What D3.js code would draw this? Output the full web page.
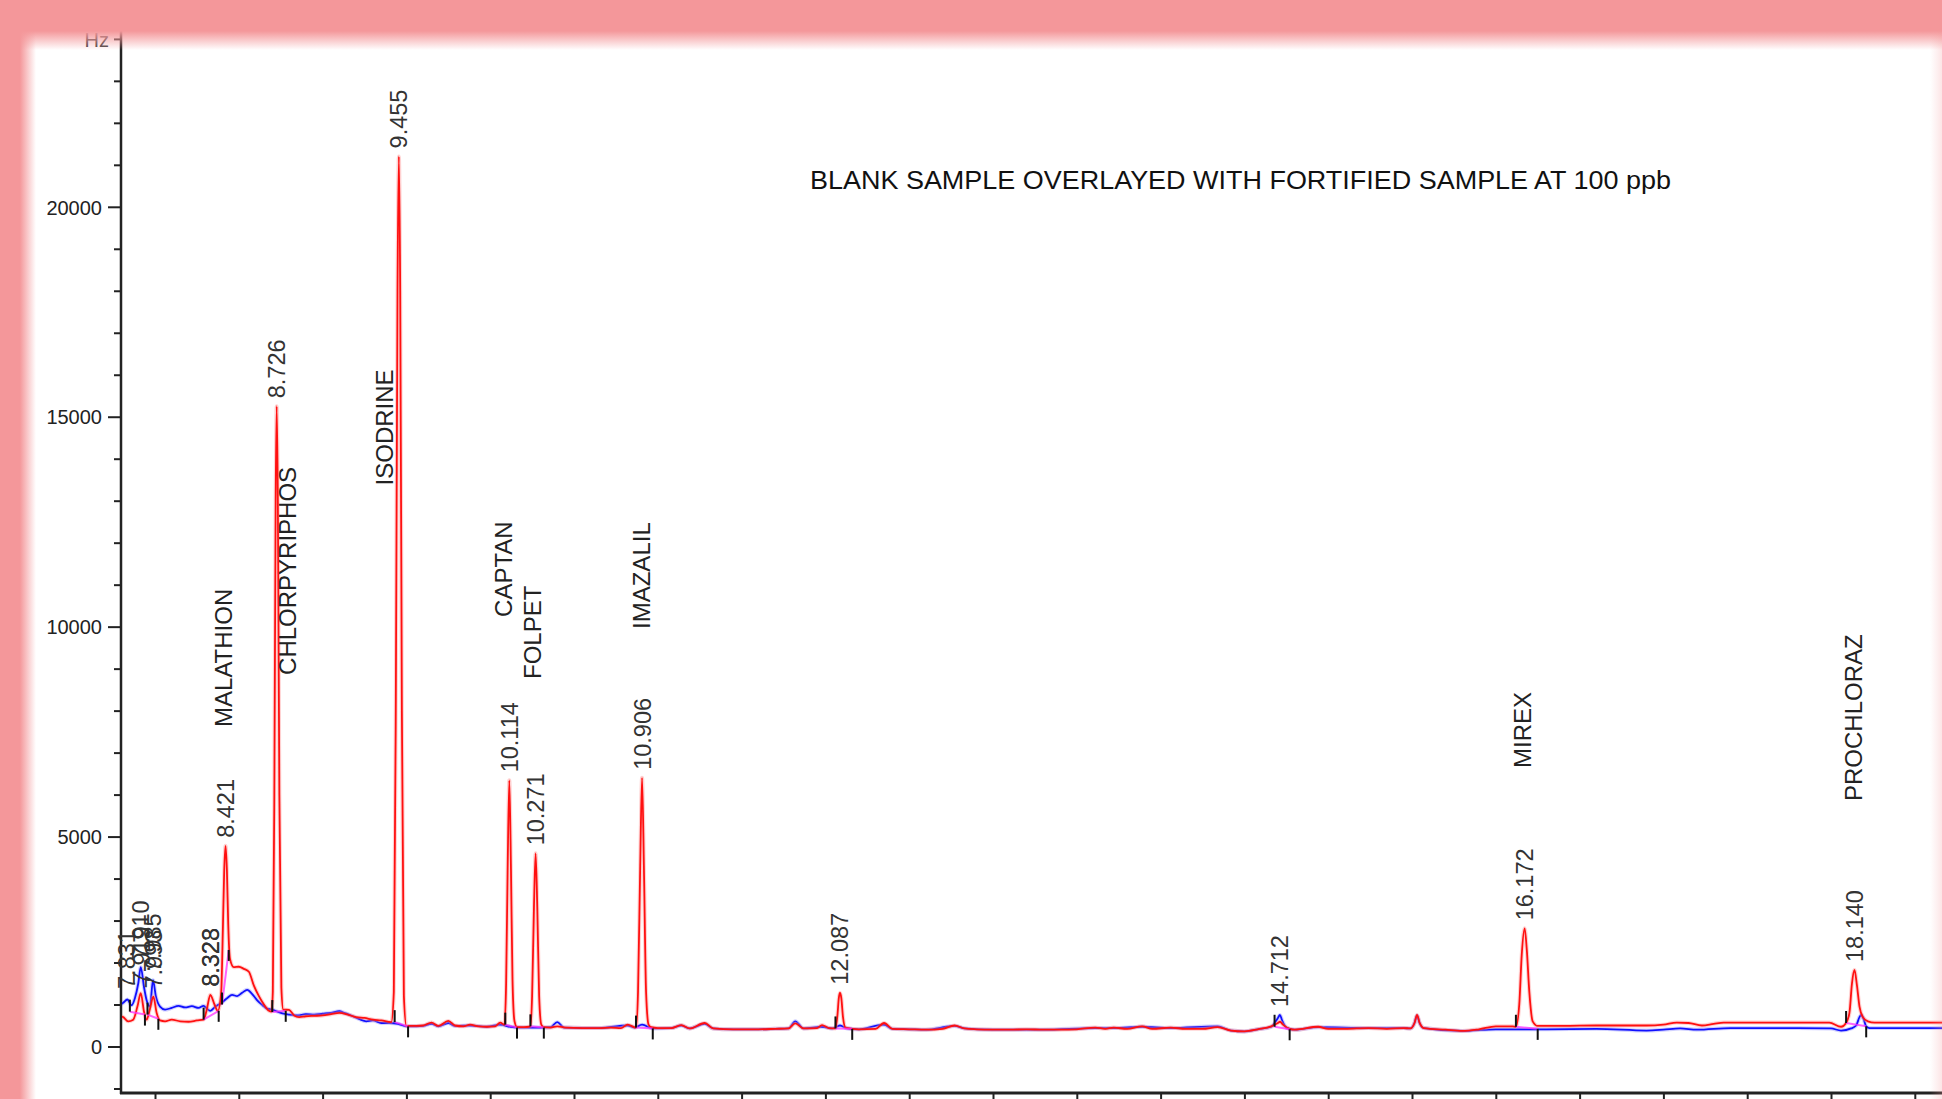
<!DOCTYPE html>
<html><head><meta charset="utf-8">
<script src="https://cdn.jsdelivr.net/npm/d3@7"></script>
<style>html,body{margin:0;padding:0;background:#fff;overflow:hidden}svg{display:block}</style>
</head><body>
<svg id="chart" width="1942" height="1099"></svg>
<script>
// ---------- DATA ----------
const titleText = "BLANK SAMPLE OVERLAYED WITH FORTIFIED SAMPLE AT 100 ppb";
const yUnit = "Hz";
const yMajorTicks = [0, 5000, 10000, 15000, 20000];
const yMinorTicks = d3.range(-1000, 24001, 1000);
const xTicks = d3.range(8, 18.51, 0.5);

// fortified sample (red): [retention time (min), signal (Hz)]
const redTrace = [
[7.795,720],[7.81,700],[7.84,600],[7.87,640],[7.895,950],[7.915,1270],[7.935,820],[7.95,640],[7.97,900],[7.99,1190],
[8.01,800],[8.03,620],[8.06,600],[8.10,640],[8.15,600],[8.20,590],[8.25,620],[8.29,640],[8.31,900],[8.33,1230],
[8.355,1000],[8.375,850],[8.395,1300],[8.405,2800],[8.413,4200],[8.421,4780],[8.429,4200],[8.437,2900],[8.447,2100],
[8.47,1890],[8.50,1900],[8.53,1850],[8.56,1780],[8.59,1450],[8.62,1200],[8.65,1000],[8.68,850],[8.695,830],
[8.703,1300],[8.712,6000],[8.72,13000],[8.726,15250],[8.733,13000],[8.742,6000],[8.754,1400],[8.765,880],
[8.80,870],[8.83,740],[8.86,700],[8.90,720],[8.95,730],[9.00,740],[9.05,770],[9.10,800],[9.15,760],[9.20,700],
[9.25,680],[9.30,640],[9.35,620],[9.41,580],[9.425,1300],[9.437,8300],[9.447,18000],[9.455,21200],[9.463,18000],
[9.473,8000],[9.485,1200],[9.50,490],[9.56,490],[9.60,500],[9.65,570],[9.69,490],[9.75,610],[9.79,500],[9.84,480],
[9.88,520],[9.93,480],[9.98,470],[10.03,480],[10.06,570],[10.085,520],[10.095,1500],[10.104,4200],[10.114,6340],
[10.124,4200],[10.133,1600],[10.145,600],[10.16,460],[10.20,460],[10.24,480],[10.25,1200],[10.261,3300],[10.271,4600],
[10.281,3300],[10.292,1200],[10.305,520],[10.32,460],[10.36,450],[10.40,480],[10.45,450],[10.55,440],[10.65,440],
[10.72,450],[10.78,440],[10.82,520],[10.87,450],[10.882,1300],[10.895,4300],[10.906,6400],[10.917,4300],[10.93,1300],
[10.945,520],[10.96,460],[11.0,440],[11.08,440],[11.14,510],[11.19,430],[11.28,560],[11.33,430],[11.45,410],[11.6,410],
[11.7,420],[11.78,430],[11.82,550],[11.87,430],[11.95,440],[11.98,510],[12.02,440],[12.06,430],[12.072,750],[12.08,1150],
[12.087,1280],[12.095,1150],[12.105,700],[12.12,450],[12.2,410],[12.3,420],[12.35,560],[12.4,420],[12.5,410],[12.6,400],
[12.7,420],[12.77,500],[12.83,430],[12.9,410],[13.0,400],[13.1,400],[13.2,410],[13.3,400],[13.4,400],[13.5,410],
[13.61,450],[13.67,420],[13.72,450],[13.8,420],[13.89,480],[13.95,420],[14.06,450],[14.15,420],[14.25,420],[14.34,460],
[14.42,380],[14.5,360],[14.58,410],[14.66,480],[14.70,560],[14.712,590],[14.73,520],[14.77,420],[14.8,400],[14.94,470],
[15.0,420],[15.1,420],[15.24,440],[15.35,420],[15.45,440],[15.49,430],[15.515,560],[15.53,750],[15.545,570],[15.57,440],
[15.7,400],[15.8,370],[15.9,410],[16.0,480],[16.1,480],[16.12,470],[16.14,1000],[16.155,2200],[16.172,2815],[16.185,2300],
[16.2,1300],[16.22,600],[16.25,490],[16.4,490],[16.6,500],[16.8,500],[16.9,500],[17.0,520],[17.08,570],[17.15,560],
[17.23,500],[17.3,540],[17.36,570],[17.6,570],[17.8,570],[17.99,570],[18.06,470],[18.09,560],[18.11,800],[18.125,1500],
[18.14,1822],[18.155,1450],[18.17,950],[18.19,700],[18.22,600],[18.26,570],[18.5,570],[18.7,570]
];

// blank sample (blue)
const blueTrace = [
[7.795,1000],[7.81,1040],[7.835,1120],[7.86,980],[7.88,1150],[7.90,1500],[7.915,1890],[7.935,1400],[7.95,1100],
[7.97,950],[7.988,1580],[8.005,1200],[8.03,950],[8.06,880],[8.10,920],[8.14,970],[8.18,930],[8.22,960],[8.26,920],
[8.29,970],[8.31,900],[8.33,850],[8.36,950],[8.40,1050],[8.43,1150],[8.46,1230],[8.49,1200],[8.52,1280],[8.55,1350],
[8.58,1250],[8.61,1100],[8.64,990],[8.67,900],[8.70,880],[8.73,830],[8.76,790],[8.80,760],[8.85,740],[8.90,770],
[8.95,760],[9.00,780],[9.05,800],[9.10,840],[9.13,800],[9.18,720],[9.22,650],[9.26,600],[9.30,620],[9.35,560],
[9.40,560],[9.45,540],[9.50,480],[9.56,480],[9.60,490],[9.65,540],[9.69,480],[9.75,560],[9.79,490],[9.88,500],
[9.98,470],[10.06,520],[10.12,470],[10.2,450],[10.3,450],[10.36,460],[10.40,580],[10.44,450],[10.55,440],[10.65,440],
[10.82,500],[10.86,450],[10.906,520],[10.97,430],[11.08,440],[11.14,500],[11.19,430],[11.28,540],[11.33,430],[11.45,410],
[11.6,410],[11.7,420],[11.78,430],[11.82,600],[11.87,430],[11.98,470],[12.04,430],[12.087,500],[12.13,430],[12.2,410],
[12.35,520],[12.4,420],[12.5,410],[12.6,400],[12.77,490],[12.83,430],[13.0,400],[13.3,400],[13.61,440],[13.72,440],
[13.89,470],[14.06,440],[14.34,480],[14.42,380],[14.5,360],[14.58,410],[14.66,470],[14.70,680],[14.712,750],[14.725,620],
[14.75,450],[14.8,400],[14.94,460],[15.24,440],[15.45,440],[15.49,430],[15.515,560],[15.53,740],[15.545,560],[15.57,440],
[15.8,370],[16.0,410],[16.3,410],[16.6,420],[16.9,380],[17.0,400],[17.1,430],[17.2,400],[17.4,440],[17.8,440],
[18.0,430],[18.06,380],[18.12,430],[18.15,500],[18.17,700],[18.18,750],[18.195,650],[18.21,480],[18.23,440],[18.7,440]
];

// retention time labels: text, time, apex (Hz)
const rtText  = ["7.831","7.910","7.919","7.985","7.993","8.323","8.328","8.421","8.726","9.455","10.114","10.271","10.906","12.087","14.712","16.172","18.140"];
const rtTime  = [7.833,7.915,7.92,7.988,7.993,8.33,8.331,8.421,8.726,9.455,10.114,10.271,10.906,12.087,14.712,16.172,18.140];
const rtApex  = [1180,1890,1270,1580,1190,1230,1230,4780,15250,21200,6340,4600,6400,1280,750,2815,1822];

// compound names: name, time, level of label foot (Hz)
const compName  = ["MALATHION","CHLORPYRIPHOS","ISODRINE","CAPTAN","FOLPET","IMAZALIL","MIREX","PROCHLORAZ"];
const compTime  = [8.41,8.79,9.37,10.08,10.25,10.90,16.16,18.135];
const compLevel = [7611,8850,13364,10231,8754,9945,6634,5848];

// integration events: start time, start Hz, end time, end Hz
const peakStartT = [7.85,7.955,8.29,8.40,8.70,9.43,10.09,10.24,10.87,12.06,14.68,16.12,18.09];
const peakStartV = [830,760,640,1000,820,580,520,480,450,430,470,470,560];
const peakEndT   = [7.94,8.02,8.38,8.44,8.78,9.51,10.16,10.32,10.97,12.16,14.77,16.25,18.21];
const peakEndV   = [760,660,850,2300,850,480,450,450,430,420,410,420,480];

// ---------- DRAW ----------
const W = 1942, H = 1099;
const svg = d3.select("#chart");
const x = d3.scaleLinear().domain([8, 18.5]).range([155, 1914.8]);
const y = d3.scaleLinear().domain([0, 20000]).range([1046.5, 206.8]);
const axisX = 121, axisY = 1093;
const FONT = "'Liberation Sans', Arial, sans-serif";

const defs = svg.append("defs");
const pink = "#f4979a";
const gTop = defs.append("linearGradient").attr("id","gTop").attr("x1",0).attr("y1",0).attr("x2",0).attr("y2",1);
gTop.append("stop").attr("offset","0").attr("stop-color",pink);
gTop.append("stop").attr("offset","0.62").attr("stop-color",pink);
gTop.append("stop").attr("offset","1").attr("stop-color",pink).attr("stop-opacity",0);
const gLeft = defs.append("linearGradient").attr("id","gLeft").attr("x1",0).attr("y1",0).attr("x2",1).attr("y2",0);
gLeft.append("stop").attr("offset","0").attr("stop-color",pink);
gLeft.append("stop").attr("offset","0.55").attr("stop-color",pink);
gLeft.append("stop").attr("offset","1").attr("stop-color",pink).attr("stop-opacity",0);
const gRight = defs.append("linearGradient").attr("id","gRight").attr("x1",1).attr("y1",0).attr("x2",0).attr("y2",0);
gRight.append("stop").attr("offset","0").attr("stop-color",pink).attr("stop-opacity",0.25);
gRight.append("stop").attr("offset","1").attr("stop-color",pink).attr("stop-opacity",0);

defs.append("clipPath").attr("id","plotClip").append("rect")
  .attr("x", axisX+1).attr("y", 0).attr("width", W-axisX).attr("height", axisY);

svg.append("rect").attr("width",W).attr("height",H).attr("fill","#fff");

// title
svg.append("text").attr("x", 810).attr("y", 189).attr("font-family", FONT).attr("font-size", 26)
  .attr("fill","#111").attr("textLength", 861).attr("lengthAdjust","spacingAndGlyphs").text(titleText);

// y axis
const yAxis = d3.axisLeft(y).tickValues(yMinorTicks).tickSizeOuter(0)
  .tickFormat(d => yMajorTicks.includes(d) ? String(d) : (d === 24000 ? yUnit : ""));
const gy = svg.append("g").attr("transform", `translate(${axisX},0)`).call(yAxis);
gy.select(".domain").remove();
gy.selectAll(".tick line").attr("stroke","#222").attr("stroke-width",2)
  .attr("x2", d => yMajorTicks.includes(d) ? -13 : -7);
gy.selectAll(".tick text").attr("font-family", FONT).attr("font-size", 20).attr("fill", d => d===24000 ? "#444" : "#222")
  .attr("x", d => d===24000 ? -12 : -19).attr("dy","0.36em");
svg.append("line").attr("x1",axisX).attr("x2",axisX).attr("y1",30).attr("y2",axisY+1)
  .attr("stroke","#222").attr("stroke-width",2.5);

// x axis
const xAxis = d3.axisBottom(x).tickValues(xTicks).tickSize(10).tickSizeOuter(0).tickFormat("");
const gx = svg.append("g").attr("transform", `translate(0,${axisY})`).call(xAxis);
gx.select(".domain").remove();
gx.selectAll(".tick line").attr("stroke","#222").attr("stroke-width",2);
svg.append("line").attr("x1",axisX-1).attr("x2",W).attr("y1",axisY).attr("y2",axisY)
  .attr("stroke","#222").attr("stroke-width",3);

// traces
const line = d3.line().x(d => x(d[0])).y(d => y(d[1])).curve(d3.curveMonotoneX);
const plot = svg.append("g").attr("clip-path","url(#plotClip)");
plot.append("path").datum(blueTrace).attr("d", line).attr("fill","none").attr("stroke","#8c8cff").attr("stroke-width",4).attr("stroke-opacity",0.4);
plot.append("path").datum(blueTrace).attr("d", line).attr("fill","none").attr("stroke","#1010ff").attr("stroke-width",1.8);
plot.append("path").datum(redTrace).attr("d", line).attr("fill","none").attr("stroke","#ff8c8c").attr("stroke-width",4).attr("stroke-opacity",0.4);
plot.append("path").datum(redTrace).attr("d", line).attr("fill","none").attr("stroke","#ff1010").attr("stroke-width",1.8);

// integration baselines and marks
const evts = peakStartT.map((t,i) => ({t0:t, v0:peakStartV[i], t1:peakEndT[i], v1:peakEndV[i]}));
plot.selectAll(".base").data(evts).enter().append("line")
  .attr("x1", d=>x(d.t0)).attr("y1", d=>y(d.v0)).attr("x2", d=>x(d.t1)).attr("y2", d=>y(d.v1))
  .attr("stroke","#ff30ff").attr("stroke-width",2).attr("stroke-opacity",0.75);
plot.selectAll(".ms").data(evts).enter().append("line")
  .attr("x1", d=>x(d.t0)).attr("x2", d=>x(d.t0)).attr("y1", d=>y(d.v0)).attr("y2", d=>y(d.v0)-12)
  .attr("stroke","#111").attr("stroke-width",2);
plot.selectAll(".me").data(evts).enter().append("line")
  .attr("x1", d=>x(d.t1)).attr("x2", d=>x(d.t1)).attr("y1", d=>y(d.v1)).attr("y2", d=>y(d.v1)+11)
  .attr("stroke","#111").attr("stroke-width",2);

// retention time labels
svg.selectAll(".rt").data(rtText).enter().append("text")
  .attr("transform", (d,i) => `translate(${x(rtTime[i])},${y(rtApex[i]) - 8}) rotate(-90)`)
  .attr("dy","0.36em").attr("font-family", FONT).attr("font-size", 23.5).attr("fill","#333")
  .text(d => d);

// compound labels
svg.selectAll(".cmp").data(compName).enter().append("text")
  .attr("transform", (d,i) => `translate(${x(compTime[i])},${y(compLevel[i])}) rotate(-90)`)
  .attr("dy","0.36em").attr("font-family", FONT).attr("font-size", 24).attr("fill","#222")
  .text(d => d);

// frame glow
svg.append("rect").attr("x",0).attr("y",0).attr("width",W).attr("height",50).attr("fill","url(#gTop)");
svg.append("rect").attr("x",0).attr("y",0).attr("width",36).attr("height",H).attr("fill","url(#gLeft)");
svg.append("rect").attr("x",W-12).attr("y",0).attr("width",12).attr("height",H).attr("fill","url(#gRight)");
</script>
</body></html>
